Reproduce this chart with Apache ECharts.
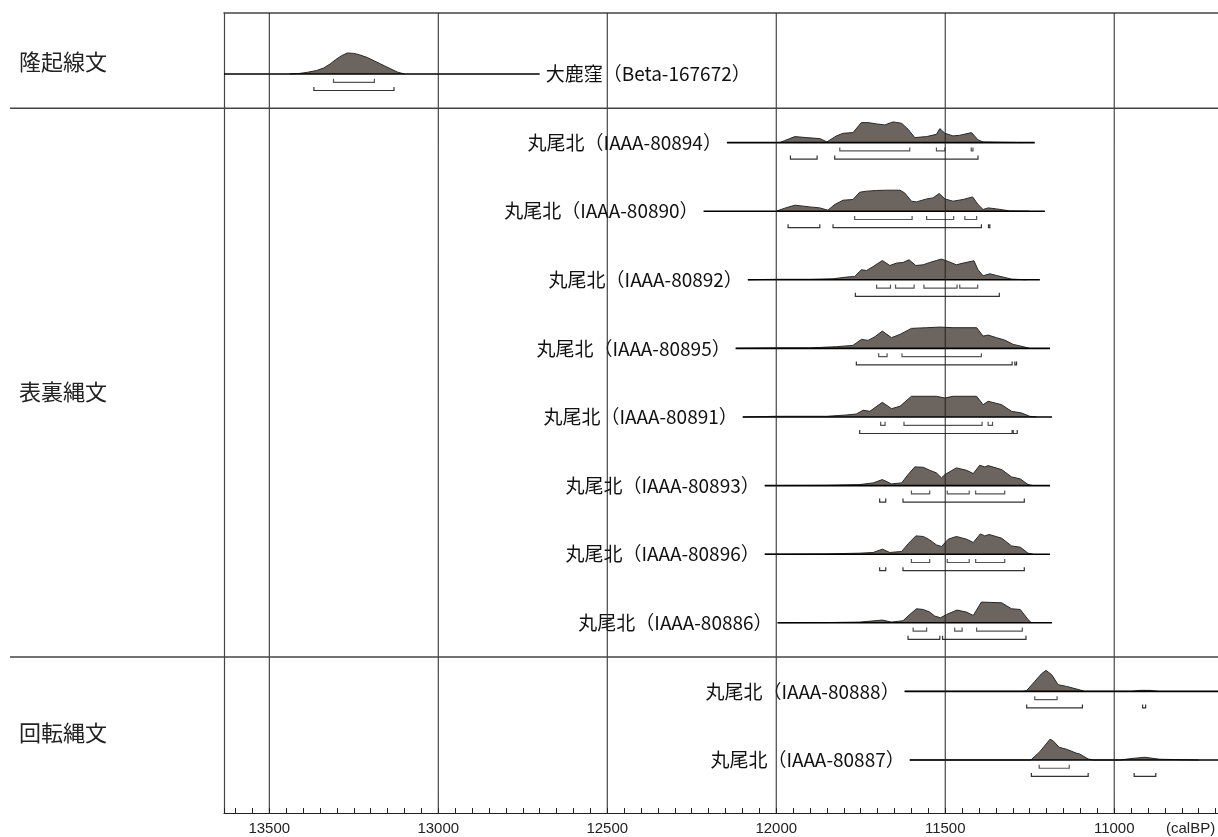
<!DOCTYPE html>
<html><head><meta charset="utf-8">
<script src="https://cdn.jsdelivr.net/npm/echarts@6/dist/echarts.min.js"></script>
<style>html,body{margin:0;padding:0;background:#fff}#c{width:1218px;height:837px}</style>
</head><body><div id="c"></div>
<script>
// ---- axis / layout data ----
const X_MIN = 10650, X_MAX = 13634;           // calBP (axis reversed)
const X_TICK_STEP = 50;
const MAJOR_TICKS = [13500, 13000, 12500, 12000, 11500, 11000];
const Y_MIN = -0.8892, Y_MAX = 10.773;        // row units
const GROUP_NAMES = ['隆起線文', '表裏縄文', '回転縄文'];
const GROUP_SEPARATORS = [0.5, 8.5];          // between rows

// ---- samples ----
const SAMPLE_LABELS = [
  '大鹿窪（Beta-167672）',
  '丸尾北（IAAA-80894）', '丸尾北（IAAA-80890）', '丸尾北（IAAA-80892）', '丸尾北（IAAA-80895）',
  '丸尾北（IAAA-80891）', '丸尾北（IAAA-80893）', '丸尾北（IAAA-80896）', '丸尾北（IAAA-80886）',
  '丸尾北（IAAA-80888）', '丸尾北（IAAA-80887）'
];
const LINE_SPANS = [
  [13634, 12700], [12146, 11235], [12215, 11205], [12084, 11220], [12120, 11190],
  [12099, 11184], [12034, 11190], [12034, 11190], [11996, 11184], [11620, 10650], [11605, 10650]
];

// probability curves: [calBP, relative probability]
const DENS_B167672 = [[13440,0],[13410,0.6],[13387,1.7],[13360,3.5],[13339,6],[13320,10],[13304,14.3],[13285,18.5],[13269,21],[13250,20.6],[13234,19.3],[13210,16.5],[13187,12.7],[13160,8.3],[13140,5],[13120,1.8],[13100,0]];
const DENS_80894 = [[11990,0],[11975,2],[11945,6],[11911,5],[11871,4],[11850,0.7],[11822,6.7],[11802,9.3],[11773,10],[11748,20],[11728,20],[11703,18.7],[11679,17.7],[11654,20.7],[11629,19.3],[11610,13.3],[11590,5],[11555,6],[11526,8.3],[11516,14],[11501,9.3],[11477,6.7],[11457,7.3],[11422,10],[11403,2.7],[11388,0.7],[11330,0.3],[11270,0]];
const DENS_80890 = [[12000,0],[11975,3],[11945,6],[11901,4.3],[11871,3.3],[11847,1],[11827,6.7],[11802,11],[11773,11.7],[11753,19],[11733,20],[11703,20.7],[11674,21],[11634,21],[11620,18.3],[11600,10],[11585,9.3],[11555,12.3],[11536,13.3],[11518,17.7],[11501,12.3],[11477,10],[11447,11.7],[11419,14.3],[11403,6.7],[11388,1.7],[11373,3.3],[11348,2.3],[11309,0.3],[11250,0]];
const DENS_80892 = [[12084,0],[12000,0.5],[11900,0.5],[11832,1],[11792,2.7],[11768,3.3],[11748,10],[11733,9.3],[11713,13.3],[11686,19.3],[11664,14.3],[11644,16.7],[11625,17.3],[11607,20],[11587,14.3],[11565,15],[11546,17.3],[11526,19.3],[11511,20.7],[11491,18.3],[11467,15],[11447,16.7],[11415,19],[11403,10],[11388,4],[11368,6],[11348,4.3],[11329,2.7],[11304,0.7],[11260,0]];
const DENS_80895 = [[12120,0],[12000,0.5],[11900,0.5],[11822,1.7],[11773,3],[11748,9],[11728,8],[11708,11.7],[11686,17.3],[11659,10.7],[11634,14],[11600,20],[11555,20.7],[11516,21.3],[11477,20.7],[11407,20.7],[11388,12.3],[11373,13.3],[11348,10.7],[11324,8.3],[11299,4],[11269,1.7],[11250,0]];
const DENS_80891 = [[12099,0],[12000,0.7],[11850,0.7],[11792,2],[11763,3],[11743,6.7],[11723,5.7],[11686,14.7],[11659,8.3],[11634,10.7],[11600,20.7],[11526,20.7],[11501,19],[11477,20.7],[11407,20.7],[11388,12.3],[11373,15.7],[11333,12.3],[11304,5.7],[11274,4],[11250,0.7],[11230,0]];
const DENS_80893 = [[12034,0],[11850,0.3],[11753,1],[11713,2.7],[11686,6],[11659,1.7],[11629,2.7],[11610,11],[11590,18.7],[11565,18.3],[11546,15.3],[11526,12.7],[11511,7.7],[11501,11],[11467,17.7],[11437,15.3],[11417,12],[11398,20.3],[11383,18.7],[11373,20],[11333,16],[11304,8.7],[11278,6.7],[11255,1],[11240,0]];
const DENS_80896 = [[12034,0],[11850,0.3],[11753,1],[11713,1.7],[11686,5],[11664,1.7],[11629,2.7],[11610,10.3],[11587,18.3],[11565,17.7],[11546,14.3],[11526,9.3],[11511,7.7],[11491,15],[11467,17.7],[11437,15],[11417,11.7],[11396,20.3],[11383,18.3],[11370,19.7],[11333,16],[11304,8.3],[11278,7],[11255,1],[11240,0]];
const DENS_80886 = [[11996,0],[11850,0.2],[11753,0.7],[11686,2.7],[11659,0.7],[11625,2],[11605,8.3],[11585,14],[11565,13.3],[11546,10.7],[11531,6.7],[11514,5],[11496,8.3],[11465,12.7],[11437,10.7],[11417,7.3],[11393,20.7],[11333,20],[11304,14],[11278,13.3],[11255,3.3],[11245,0]];
const DENS_80888 = [[11620,0],[11270,0],[11259,0.8],[11235,10],[11215,17.7],[11202,21],[11185,16.7],[11166,6.7],[11141,5],[11111,2.3],[11087,0],[10950,0],[10924,1],[10894,1],[10870,0]];
const DENS_80887 = [[11605,0],[11250,0],[11245,0.5],[11220,8.3],[11190,20.7],[11181,19.3],[11163,12.7],[11141,10.7],[11111,6.7],[11102,6],[11077,1],[11062,0],[10980,0],[10954,1.3],[10909,2.7],[10865,0.7],[10797,0.3],[10750,0]];
const DENSITIES = [DENS_B167672, DENS_80894, DENS_80890, DENS_80892, DENS_80895, DENS_80891, DENS_80893, DENS_80896, DENS_80886, DENS_80888, DENS_80887];

// 1σ and 2σ calibrated ranges [from, to] calBP
const SIGMA1 = [
  [[13310,13189]],
  [[11812,11605],[11526,11501],[11423,11418]],
  [[11768,11598],[11555,11475],[11442,11407]],
  [[11703,11662],[11647,11592],[11563,11465],[11457,11404]],
  [[11697,11672],[11628,11393]],
  [[11691,11678],[11622,11391],[11373,11360]],
  [[11600,11546],[11494,11429],[11410,11324]],
  [[11600,11546],[11494,11429],[11410,11324]],
  [[11595,11555],[11472,11450],[11407,11272]],
  [[11235,11169]],
  [[11222,11133]]
];
const SIGMA2 = [
  [[13368,13131]],
  [[11958,11879],[11827,11403]],
  [[11965,11871],[11832,11393],[11372,11368]],
  [[11766,11340]],
  [[11763,11302],[11294,11289]],
  [[11753,11302],[11299,11287]],
  [[11694,11676],[11625,11266]],
  [[11694,11676],[11625,11266]],
  [[11610,11516],[11508,11261]],
  [[11259,11094],[10916,10907]],
  [[11245,11077],[10941,10877]]
];

// ---- rendering ----
const ROW_PX = 68.6;           // reference px per row, used to scale curve heights
const CJK = '"Noto Sans CJK JP","Noto Sans CJK SC",sans-serif';
const chart = echarts.init(document.getElementById('c'), null, {renderer: 'canvas'});

function renderSample(params, api) {
  const i = params.dataIndex;
  const row = i;
  const dens = DENSITIES[i];
  const pts = dens.map(d => api.coord([d[0], row - d[1] / ROW_PX]));
  const b0 = api.coord([dens[0][0], row]);
  const b1 = api.coord([dens[dens.length - 1][0], row]);
  const children = [];
  children.push({type: 'polygon', shape: {points: [b0].concat(pts, [b1])},
    style: {fill: '#6c645e', stroke: null}, z2: 1});
  children.push({type: 'polyline', shape: {points: pts},
    style: {stroke: '#2a2a2a', lineWidth: 1, fill: null}, z2: 2});
  const a = api.coord([LINE_SPANS[i][0], row]);
  const b = api.coord([LINE_SPANS[i][1], row]);
  children.push({type: 'line', shape: {x1: a[0], y1: a[1], x2: b[0], y2: b[1]},
    style: {stroke: '#000', lineWidth: 1.6}, z2: 3});
  const addBr = (ranges, off, col) => ranges.forEach(r => {
    const p = api.coord([r[0], row]), q = api.coord([r[1], row]);
    const y = p[1] + off;
    children.push({type: 'polyline', shape: {points: [[p[0], y - 3.5], [p[0], y], [q[0], y], [q[0], y - 3.5]]},
      style: {stroke: col, lineWidth: 1.2, fill: null}, z2: 3});
  });
  addBr(SIGMA1[i], 8.3, '#555');
  addBr(SIGMA2[i], 16.5, '#333');
  if (i === 0) {
    children.push({type: 'text', style: {text: SAMPLE_LABELS[i], x: b[0] + 6, y: b[1],
      align: 'left', verticalAlign: 'middle', fontSize: 19, fontFamily: CJK, fill: '#111'}, z2: 4});
  } else {
    children.push({type: 'text', style: {text: SAMPLE_LABELS[i], x: a[0] - 5, y: a[1],
      align: 'right', verticalAlign: 'middle', fontSize: 19, fontFamily: CJK, fill: '#111'}, z2: 4});
  }
  return {type: 'group', children};
}

function renderGridLine(params, api) {
  const v = MAJOR_TICKS[params.dataIndex];
  const p = api.coord([v, Y_MIN]), q = api.coord([v, Y_MAX]);
  return {type: 'line', shape: {x1: p[0], y1: p[1], x2: q[0], y2: q[1]},
    style: {stroke: '#222', lineWidth: 1}};
}

function renderSeparator(params, api) {
  const r = GROUP_SEPARATORS[params.dataIndex];
  const q = api.coord([X_MIN, r]);
  return {type: 'line', shape: {x1: 10, y1: q[1], x2: q[0], y2: q[1]},
    style: {stroke: '#444', lineWidth: 1.5}};
}

const option = {
  backgroundColor: '#fff',
  animation: false,
  grid: {left: 224, right: -14.5, top: 13, bottom: 24, containLabel: false, outerBoundsMode: 'none'},
  xAxis: [{
    type: 'value', inverse: true, min: X_MIN, max: X_MAX, interval: X_TICK_STEP,
    position: 'bottom',
    axisLine: {show: true, onZero: false, lineStyle: {color: '#222', width: 1}},
    axisTick: {show: true, inside: true, length: 5, interval: 0, lineStyle: {color: '#222', width: 1}},
    axisLabel: {show: true, interval: 0, margin: 8, fontSize: 15, color: '#222',
      fontFamily: '"Liberation Sans", Arial, sans-serif', hideOverlap: false,
      formatter: v => (MAJOR_TICKS.indexOf(v) >= 0 ? String(v) : '')},
    splitLine: {show: false}
  }, {
    type: 'value', inverse: true, min: X_MIN, max: X_MAX, position: 'top',
    axisLine: {show: true, onZero: false, lineStyle: {color: '#444', width: 1.5}},
    axisTick: {show: false}, axisLabel: {show: false}, splitLine: {show: false}
  }],
  yAxis: {
    type: 'value', inverse: true, min: Y_MIN, max: Y_MAX,
    axisLine: {show: true, onZero: false, lineStyle: {color: '#444', width: 1.2}},
    axisTick: {show: false}, axisLabel: {show: false}, splitLine: {show: false}
  },
  graphic: [
    {type: 'text', left: 19, top: 51, style: {text: GROUP_NAMES[0], fontSize: 22, fontFamily: CJK, fill: '#222'}},
    {type: 'text', left: 19, top: 381, style: {text: GROUP_NAMES[1], fontSize: 22, fontFamily: CJK, fill: '#222'}},
    {type: 'text', left: 19, top: 722, style: {text: GROUP_NAMES[2], fontSize: 22, fontFamily: CJK, fill: '#222'}},
    {type: 'text', left: 1166, top: 821, style: {text: '(calBP)', fontSize: 15,
      fontFamily: '"Liberation Sans", Arial, sans-serif', fill: '#222'}}
  ],
  series: [
    {type: 'custom', name: 'samples', coordinateSystem: 'cartesian2d', z: 2,
      data: SAMPLE_LABELS.map((_, i) => [LINE_SPANS[i][0], i]), renderItem: renderSample},
    {type: 'custom', name: 'grid', coordinateSystem: 'cartesian2d', z: 3,
      data: MAJOR_TICKS.map(v => [v, 0]), renderItem: renderGridLine},
    {type: 'custom', name: 'separators', coordinateSystem: 'cartesian2d', z: 3, clip: false,
      data: GROUP_SEPARATORS.map(r => [X_MIN, r]), renderItem: renderSeparator}
  ]
};
chart.setOption(option);
</script></body></html>
